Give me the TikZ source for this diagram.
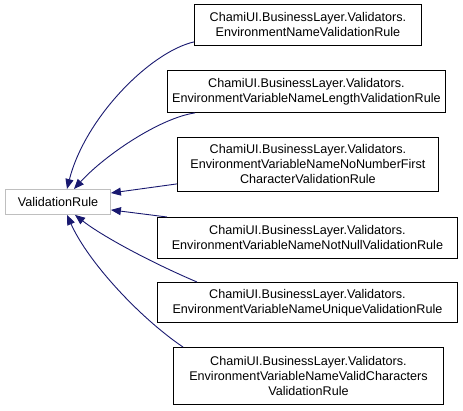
\documentclass[tikz,border=0pt]{standalone}
\usepackage{fontspec}
\setmainfont{Liberation Sans}
\usetikzlibrary{arrows.meta}
\definecolor{edgeblue}{HTML}{191970}
\definecolor{boxgray}{HTML}{BFBFBF}
\begin{document}
\begin{tikzpicture}[x=1pt,y=-1pt,
  cls/.style={draw=black, fill=white, line width=0.9pt, inner sep=0pt, align=center,
    font=\fontsize{12.6}{15}\selectfont, anchor=north west},
  base/.style={draw=boxgray, fill=white, line width=0.9pt, inner sep=0pt, align=center,
    font=\fontsize{12.6}{15}\selectfont, anchor=north west},
  edge/.style={draw=edgeblue, line width=0.9pt, -{Triangle[length=10pt,width=8pt]}}]
\useasboundingbox (0,0) rectangle (463,410);
\node[base, minimum width=105pt, minimum height=25pt] (vr) at (5,189) {ValidationRule};
\node[cls, minimum width=227pt, minimum height=41pt] (b1) at (194,4) {ChamiUI.BusinessLayer.Validators.\\EnvironmentNameValidationRule};
\node[cls, minimum width=278pt, minimum height=42pt] (b2) at (167,70) {ChamiUI.BusinessLayer.Validators.\\EnvironmentVariableNameLengthValidationRule};
\node[cls, minimum width=261pt, minimum height=54pt] (b3) at (177,137) {ChamiUI.BusinessLayer.Validators.\\EnvironmentVariableNameNoNumberFirst\\CharacterValidationRule};
\node[cls, minimum width=300pt, minimum height=41pt] (b4) at (157,217) {ChamiUI.BusinessLayer.Validators.\\EnvironmentVariableNameNotNullValidationRule};
\node[cls, minimum width=300pt, minimum height=40pt] (b5) at (157,282) {ChamiUI.BusinessLayer.Validators.\\EnvironmentVariableNameUniqueValidationRule};
\node[cls, minimum width=270pt, minimum height=57pt] (b6) at (173,347) {ChamiUI.BusinessLayer.Validators.\\EnvironmentVariableNameValidCharacters\\ValidationRule};
\coordinate (t1) at ([xshift=62pt]vr.north west);
\coordinate (t2) at ([xshift=69pt]vr.north west);
\coordinate (r1) at ([yshift=-4pt]vr.north east);
\coordinate (r2) at ([yshift=5pt]vr.south east);
\coordinate (s1) at ([xshift=70pt]vr.south west);
\coordinate (s2) at ([xshift=62pt]vr.south west);
\draw[edge] ([yshift=4pt]b1.south west) .. controls (150,52) and (85,118) .. (t1);
\draw[edge] ([xshift=28pt]b2.south west) .. controls (160,118) and (105,155) .. (t2);
\draw[edge] ([yshift=8pt]b3.south west) -- (r1);
\draw[edge] ([xshift=10pt]b4.north west) -- (r2);
\draw[edge] ([xshift=40pt]b5.north west) .. controls (150,262) and (102,236) .. (s1);
\draw[edge] ([xshift=10pt]b6.north west) .. controls (140,318) and (88,262) .. (s2);
\end{tikzpicture}
\end{document}
